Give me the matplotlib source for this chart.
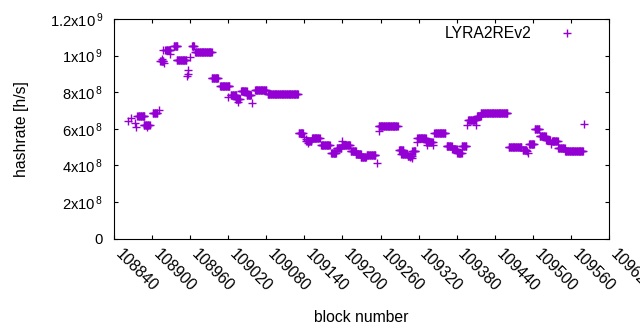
import numpy as np
import matplotlib
matplotlib.use("Agg")
import matplotlib.pyplot as plt
import matplotlib.transforms as mtransforms

plt.rcParams['font.family'] = ['Liberation Sans', 'DejaVu Sans']
plt.rcParams['mathtext.default'] = 'regular'

# Constant-hashrate runs: first block, last block, hashrate (x1e8 h/s)
run_start = [108877, 108887, 108901, 108913, 108921, 108934, 108939, 108963, 108968,
             108994, 109007, 109024, 109032, 109040, 109049, 109062, 109082,
             109131, 109143, 109152, 109166, 109182, 109191, 109199, 109213, 109221,
             109229, 109238, 109257, 109289, 109293, 109303, 109310, 109318, 109332,
             109345, 109364, 109373, 109381, 109388, 109398, 109412, 109418, 109462,
             109484, 109494, 109503, 109511, 109521, 109530, 109540, 109551]
run_end = [108888, 108896, 108908, 108918, 108929, 108940, 108954, 108966, 108994,
           109004, 109022, 109033, 109038, 109049, 109056, 109080, 109130,
           109138, 109151, 109164, 109180, 109190, 109198, 109212, 109221, 109229,
           109237, 109252, 109287, 109296, 109302, 109309, 109315, 109331, 109342,
           109362, 109372, 109380, 109388, 109395, 109410, 109418, 109460, 109482,
           109490, 109502, 109510, 109520, 109527, 109539, 109550, 109579]
run_value = [6.7, 6.2, 6.85, 9.7, 10.3, 10.55, 9.75, 10.5, 10.22,
             8.75, 8.33, 7.85, 7.6, 8.05, 7.85, 8.1, 7.9,
             5.78, 5.35, 5.5, 5.1, 4.7, 4.95, 5.1, 4.8, 4.6,
             4.45, 4.55, 6.15, 4.85, 4.6, 4.5, 4.8, 5.5, 5.3,
             5.75, 5.03, 4.9, 4.7, 5.05, 6.5, 6.7, 6.88, 5.0,
             4.85, 5.15, 6.0, 5.6, 5.4, 5.35, 4.95, 4.77]

# Isolated blocks
single_block = [108862, 108867, 108873, 108875, 108892, 108911, 108915, 108919, 108918,
                108929, 108960, 108957, 108956, 108955, 108964, 109020, 109036, 109057,
                109140, 109143, 109146, 109200, 109255, 109257, 109307, 109309, 109317,
                109333, 109343, 109397, 109411, 109491, 109492, 109528, 109581]
single_value = [6.4, 6.6, 6.3, 6.1, 6.1, 7.05, 9.8, 9.6, 10.3,
                10.1, 9.9, 9.2, 9.0, 8.9, 10.55, 7.75, 7.48, 7.4,
                5.55, 5.45, 5.2, 5.35, 4.15, 5.9, 4.45, 4.4, 5.3,
                5.1, 5.1, 6.2, 6.2, 4.8, 4.7, 5.15, 6.27]

xticks = list(range(108840, 109621, 60))
yticks = [0, 2e8, 4e8, 6e8, 8e8, 1e9, 1.2e9]
ytick_labels = ['0', r'2x10$^{\,8}$', r'4x10$^{\,8}$', r'6x10$^{\,8}$', r'8x10$^{\,8}$',
                r'1x10$^{\,9}$', r'1.2x10$^{\,9}$']

xs, ys = [], []
for s, e, v in zip(run_start, run_end, run_value):
    for b in range(s, e + 1):
        xs.append(b)
        ys.append(v * 1e8)
for b, v in zip(single_block, single_value):
    xs.append(b)
    ys.append(v * 1e8)

fig = plt.figure(figsize=(6.4, 3.3), dpi=100)
ax = fig.add_axes([114/640, 1 - 238.5/330, (609-114)/640, (238.5-19)/330])
color = '#9400D3'
ax.plot(xs, ys, linestyle='none', marker='+', color=color, markersize=5.2,
        markeredgewidth=1.0, label='LYRA2REv2')

ax.set_xlim(108840, 109620)
ax.set_ylim(0, 1.2e9)
ax.set_xticks(xticks)
ax.set_xticklabels([str(t) for t in xticks], rotation=-45, ha='left', va='top',
                   rotation_mode='anchor')
ax.set_yticks(yticks)
ax.set_yticklabels(ytick_labels)
ax.tick_params(direction='in', length=3, width=0.8, top=True, right=True,
               labelsize=11.3)
ax.tick_params(axis='x', pad=6)
ax.tick_params(axis='y', pad=8, labelsize=10.6)
offset = mtransforms.ScaledTranslation(0.09, 0.0, fig.dpi_scale_trans)
for lbl in ax.get_xticklabels():
    lbl.set_transform(lbl.get_transform() + offset)
for sp in ax.spines.values():
    sp.set_linewidth(0.8)

ax.set_xlabel('block number', fontsize=11.3, labelpad=11)
ax.set_ylabel('hashrate [h/s]', fontsize=11.3, labelpad=15)

ax.legend(loc='upper right', bbox_to_anchor=(583/640, 1 - 26/330),
          bbox_transform=fig.transFigure, frameon=False, markerfirst=False,
          fontsize=11.3, handlelength=2.0, handletextpad=1.3, borderpad=0,
          borderaxespad=0)

fig.savefig('out.png', dpi=100)
